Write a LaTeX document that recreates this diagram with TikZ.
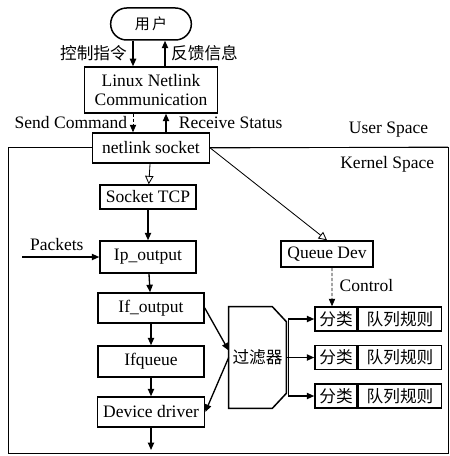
\documentclass[tikz,border=0pt]{standalone}
\usepackage{fontspec}
\setmainfont{Liberation Serif}
\newfontfamily\cjk{Noto Sans CJK SC}
\usepackage{tikz}
\usetikzlibrary{shapes.misc, arrows.meta, positioning}

\begin{document}
\begin{tikzpicture}[x=0.6pt, y=-0.6pt, font=\fontsize{10.5}{12}\selectfont,
	box/.style={draw, line width=0.9pt, fill=white, inner sep=1pt, align=center},
	arr/.style={line width=0.8pt, -{Triangle[length=4.5pt, width=3.8pt]}},
	oarr/.style={line width=0.5pt, -{Triangle[open, length=5pt, width=5pt]}}]
	\useasboundingbox (0,0) rectangle (450,456);
	
	% Kernel-Bereich
	\draw[line width=0.6pt] (8,147) rectangle (448,453);
	\node[anchor=south east] at (434,143) {User Space};
	\node[anchor=north east] at (440,150) {Kernel Space};
	
	% Knoten oben
	\node[box, rounded rectangle, minimum width=50.4pt, minimum height=19.2pt] (user) at (151,24) {\cjk\small 用\,户};
	\node[box, minimum width=79.8pt, minimum height=27.6pt] (lnc) at (151,90) {Linux Netlink\\[-1pt]Communication};
	\node[box, minimum width=70.2pt, minimum height=18pt] (nls) at (151,148) {netlink socket};
	
	% Knoten links
	\node[box, minimum width=57.6pt, minimum height=14.4pt] (tcp) at (148,197) {Socket TCP};
	\node[box, minimum width=57.6pt, minimum height=19.2pt] (ipo) at (148,257) {Ip\_output};
	\node[box, minimum width=63.6pt, minimum height=18pt] (ifo) at (151,308) {If\_output};
	\node[box, minimum width=63.6pt, minimum height=18.6pt] (ifq) at (151,361.5) {Ifqueue};
	\node[box, minimum width=64.2pt, minimum height=18pt] (dev) at (151,412) {Device driver};
	\coordinate (out) at (151,450);
	\coordinate (pin) at (22,257);
	
	% Knoten rechts
	\node[box, minimum width=55.2pt, minimum height=15.6pt] (qdev) at (327,254) {Queue Dev};
	\node[minimum width=34.2pt, minimum height=60.6pt, inner sep=0pt] (flt) at (257.5,357.5) {};
	\draw[line width=0.9pt] (flt.north west) -- ([xshift=-8.4pt]flt.north east) -- ([yshift=-9pt]flt.north east)
		-- ([yshift=9pt]flt.south east) -- ([xshift=-8.4pt]flt.south east) -- (flt.south west) -- cycle;
	\node[font=\cjk] at (flt) {过滤器};
	\foreach \i/\y in {1/319, 2/357.5, 3/396} {
		\node[box, minimum width=25.2pt, minimum height=14.4pt, font=\cjk] (cls\i) at (336,\y) {分类};
		\node[box, minimum width=49.8pt, minimum height=14.4pt, font=\cjk, right=0pt of cls\i] (rule\i) {队列规则};
	}
	
	% Pfeile oben
	\draw[arr] ([xshift=-10.8pt]user.south) -- ([xshift=-10.8pt]lnc.north) node[midway, left, font=\cjk] {控制指令};
	\draw[arr] ([xshift=8.4pt]lnc.north) -- ([xshift=8.4pt]user.south) node[midway, right, font=\cjk] {反馈信息};
	\draw[arr, line width=0.5pt, dash pattern=on 2pt off 1pt] ([xshift=-10.8pt]lnc.south) -- ([xshift=-10.8pt]nls.north) node[midway, left] {Send Command};
	\draw[arr] ([xshift=9pt]nls.north) -- ([xshift=9pt]lnc.south) node[midway, right=4pt] {Receive Status};
	
	% Trennlinie und Pfeile im Kernel
	\draw[line width=0.5pt] (nls.east) -- (448,147);
	\draw[oarr] (nls) -- (tcp);
	\draw[oarr] (nls.east) -- (qdev.north);
	\draw[arr] (tcp) -- (ipo);
	\draw[arr] (pin) -- (ipo.west) node[pos=0.45, above] {Packets};
	\draw[arr] (ipo) -- (ifo);
	\draw[arr] (ifo) -- (ifq);
	\draw[arr] (ifq) -- (dev);
	\draw[arr] (dev) -- (out);
	\draw[arr] (ifo.east) -- ([yshift=4.2pt]flt.west);
	\draw[arr] (flt.west) -- (dev.east);
	\draw[arr, line width=0.5pt, dash pattern=on 2pt off 1pt] ([xshift=3pt]qdev.south) -- ([xshift=-2.4pt]cls1.north) node[pos=0.45, right=1pt] {Control};
	\foreach \i in {1,2,3}
		\draw[arr] (flt.east) -- ++(2,0) |- (cls\i.west);
\end{tikzpicture}
\end{document}
